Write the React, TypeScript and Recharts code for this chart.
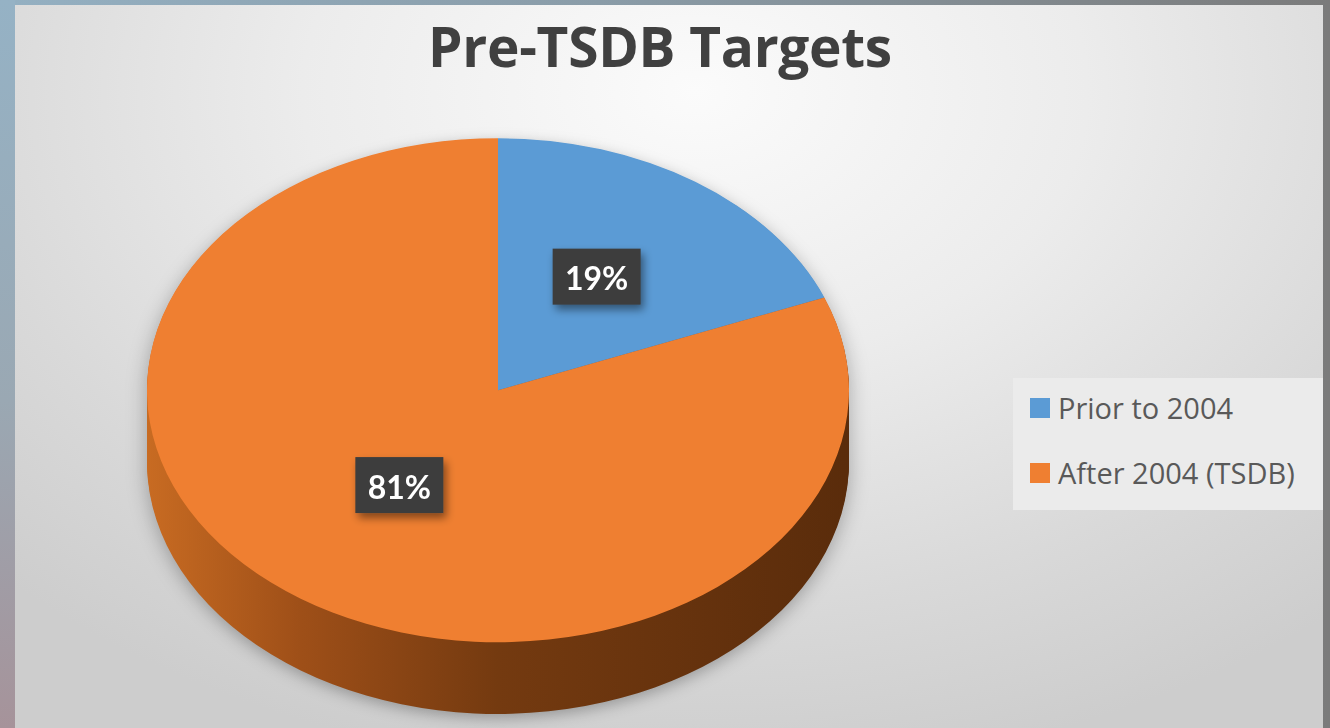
import React from 'react';
import { PieChart, Pie, Cell, Legend } from 'recharts';

const categories = ['Prior to 2004', 'After 2004 (TSDB)'];
const shares = [19, 81];
const topColors = ['#5b9bd5', '#ef7f31'];
const sideColors = ['#3d6e9c', 'url(#sideGrad)'];

const data = categories.map((name, i) => ({ name, value: shares[i] }));

// pie geometry (unscaled svg coords, then squashed vertically with css)
const R = 351;
const SY = 0.718;
const DEPTH = 100;
const W = 2 * R + 20;
const H = 2 * R + 20 + DEPTH;
const CX = R + 10;
const CY = R + 10;
const PAGE_CX = 498;
const PAGE_CY = 390;
const LABEL_LIFT = 13;
const layers: number[] = [];
for (let d = DEPTH; d > 0; d -= 3) layers.push(d);

const RAD = Math.PI / 180;
const noMargin = { top: 0, right: 0, bottom: 0, left: 0 };

function renderLabel(props: any) {
  const { cx, cy, midAngle, outerRadius, value } = props;
  const r = outerRadius * 0.5;
  const x = cx + r * Math.cos(-midAngle * RAD);
  const y = cy + r * Math.sin(-midAngle * RAD) - LABEL_LIFT;
  return (
    <g transform={`translate(${x},${y}) scale(1,${1 / SY})`}>
      <rect x={-44} y={-28} width={88} height={56} fill="#3c3c3c" filter="url(#lblShadow)" />
      <text
        x={0}
        y={1}
        textAnchor="middle"
        dominantBaseline="central"
        fill="#ffffff"
        fontSize={32}
        fontWeight={700}
        fontFamily="Lato, 'Open Sans', sans-serif"
      >
        {value}%
      </text>
    </g>
  );
}

function LegendBox({ payload }: any) {
  const items = categories.map((c, i) => {
    const p = (payload || []).find((e: any) => e.value === c);
    return { label: c, color: p && p.color ? p.color : topColors[i] };
  });
  return (
    <div
      style={{
        background: '#ebebeb',
        width: 310,
        height: 132,
        boxSizing: 'border-box',
        paddingTop: 12,
        paddingLeft: 17,
        fontFamily: "'Open Sans', sans-serif",
        fontSize: 29,
        color: '#595959',
      }}
    >
      {items.map((it, i) => (
        <div
          key={it.label}
          style={{ display: 'flex', alignItems: 'center', height: 36, lineHeight: '36px', marginTop: i ? 29 : 0, whiteSpace: 'nowrap' }}
        >
          <span style={{ width: 20, height: 20, background: it.color, marginRight: 8, display: 'inline-block', flexShrink: 0 }} />
          <span>{it.label}</span>
        </div>
      ))}
    </div>
  );
}

export default function App() {
  return (
    <div style={{ position: 'absolute', left: 0, top: 0, width: 1330, height: 728, overflow: 'hidden', background: 'linear-gradient(to right, #94b0c2 0%, #8a9ca8 45%, #7b7b7b 100%)' }}>
      {/* left strip */}
      <div style={{ position: 'absolute', left: 0, top: 0, width: 15, height: 728, background: 'linear-gradient(to bottom, #95b2c5 0%, #9aa8b3 55%, #a6939a 100%)' }} />
      {/* panel */}
      <div
        style={{
          position: 'absolute',
          left: 15,
          top: 5,
          width: 1308,
          height: 723,
          background: 'radial-gradient(ellipse 75% 95% at 52% 12%, #fbfbfb 0%, #ececec 40%, #d9d9d9 75%, #cdcdcd 100%)',
        }}
      />
      {/* title */}
      <div
        style={{
          position: 'absolute',
          left: 0,
          top: 8,
          width: 1320,
          textAlign: 'center',
          fontFamily: "'Open Sans', sans-serif",
          fontWeight: 700,
          fontSize: 55,
          letterSpacing: -0.3,
          color: '#404040',
        }}
      >
        Pre-TSDB Targets
      </div>
      {/* legend chart */}
      <div style={{ position: 'absolute', left: 0, top: 0 }}>
        <PieChart width={1330} height={728} margin={noMargin}>
          <Pie
            data={data}
            dataKey="value"
            nameKey="name"
            cx={PAGE_CX}
            cy={PAGE_CY}
            outerRadius={1}
            legendType="square"
            isAnimationActive={false}
            stroke="none"
          >
            {data.map((d, i) => (
              <Cell key={d.name} fill={topColors[i]} />
            ))}
          </Pie>
          <Legend
            layout="vertical"
            content={<LegendBox />}
            wrapperStyle={{ position: 'absolute', left: 1013, top: 378, right: 'auto', bottom: 'auto', width: 310 }}
          />
        </PieChart>
      </div>
      {/* 3d pie, squashed vertically */}
      <div
        style={{
          position: 'absolute',
          left: PAGE_CX - CX,
          top: PAGE_CY - CY * SY,
          width: W,
          height: H,
          transform: `scale(1, ${SY})`,
          transformOrigin: '0 0',
          filter: 'drop-shadow(0px 6px 10px rgba(0,0,0,0.28))',
        }}
      >
        <PieChart width={W} height={H} margin={noMargin}>
          <defs>
            <linearGradient id="sideGrad" x1="0" y1="0" x2="1" y2="0">
              <stop offset="0%" stopColor="#c86b22" />
              <stop offset="22%" stopColor="#9e4f18" />
              <stop offset="50%" stopColor="#743a10" />
              <stop offset="100%" stopColor="#5a2c0b" />
            </linearGradient>
            <filter id="lblShadow" x="-30%" y="-30%" width="170%" height="180%">
              <feDropShadow dx="3" dy="5" stdDeviation="4" floodColor="#000" floodOpacity="0.45" />
            </filter>
          </defs>
          {layers.map((d) => (
            <Pie
              key={`side-${d}`}
              data={data}
              dataKey="value"
              nameKey="name"
              cx={CX}
              cy={CY + d}
              outerRadius={R}
              startAngle={90}
              endAngle={-270}
              stroke="none"
              isAnimationActive={false}
            >
              {data.map((e, i) => (
                <Cell key={e.name} fill={sideColors[i]} />
              ))}
            </Pie>
          ))}
          <Pie
            data={data}
            dataKey="value"
            nameKey="name"
            cx={CX}
            cy={CY}
            outerRadius={R}
            startAngle={90}
            endAngle={-270}
            stroke="none"
            label={renderLabel}
            labelLine={false}
            isAnimationActive={false}
          >
            {data.map((e, i) => (
              <Cell key={e.name} fill={topColors[i]} />
            ))}
          </Pie>
        </PieChart>
      </div>
    </div>
  );
}
